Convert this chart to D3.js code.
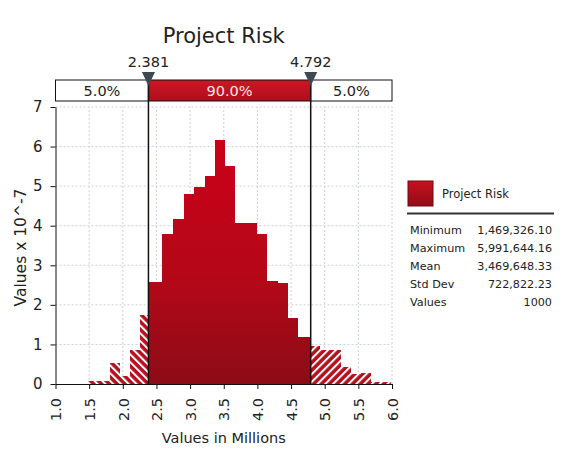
<!DOCTYPE html>
<html><head><meta charset="utf-8">
<script src="https://cdn.jsdelivr.net/npm/d3@7"></script>
<style>
body{margin:0;background:#fff}
svg{display:block}
text{font-family:"DejaVu Sans",sans-serif;fill:#222}
</style>
</head><body>
<svg id="c" width="566" height="465"></svg>
<script>
// ---- data ----
const binEdges = [1.49,1.647,1.805,1.956,2.112,2.252,2.381,2.577,2.741,2.906,3.06,3.219,3.367,3.524,3.672,3.84,3.99,4.138,4.30,4.452,4.61,4.792,4.928,5.083,5.24,5.387,5.535,5.69,5.846,5.99];
const densities = [0.07,0.07,0.54,0.2,0.86,1.75,2.57,3.8,4.18,4.81,4.98,5.25,6.16,5.5,4.06,4.06,3.78,2.6,2.56,1.67,1.19,0.97,0.85,0.85,0.44,0.25,0.28,0.06,0.06];
const delimiters = [2.381, 4.792];
const delimiterLabels = ["2.381", "4.792"];
const bandLabels = ["5.0%", "90.0%", "5.0%"];
const xTicks = [1.0,1.5,2.0,2.5,3.0,3.5,4.0,4.5,5.0,5.5,6.0];
const yTicks = [0,1,2,3,4,5,6,7];
const statNames = ["Minimum","Maximum","Mean","Std Dev","Values"];
const statValues = ["1,469,326.10","5,991,644.16","3,469,648.33","722,822.23","1000"];
const title = "Project Risk";
const seriesName = "Project Risk";
const xTitle = "Values in Millions";
const yTitle = "Values x 10^-7";

// ---- layout ----
const svg = d3.select("#c");
const x = d3.scaleLinear().domain([1, 6]).range([55.5, 392]);
const y = d3.scaleLinear().domain([0, 7]).range([384, 107]);

const defs = svg.append("defs");
const grad = defs.append("linearGradient").attr("id","grad")
  .attr("gradientUnits","userSpaceOnUse").attr("x1",0).attr("x2",0).attr("y1",y(6.2)).attr("y2",y(0));
grad.append("stop").attr("offset","0").attr("stop-color","#cc0018");
grad.append("stop").attr("offset","0.6").attr("stop-color","#b20818");
grad.append("stop").attr("offset","1").attr("stop-color","#8c0c16");
const sw = defs.append("linearGradient").attr("id","swg").attr("x1",0).attr("x2",0).attr("y1",0).attr("y2",1);
sw.append("stop").attr("offset","0").attr("stop-color","#c8101e");
sw.append("stop").attr("offset","1").attr("stop-color","#900c18");
const band = defs.append("linearGradient").attr("id","bandg").attr("x1",0).attr("x2",0).attr("y1",0).attr("y2",1);
band.append("stop").attr("offset","0").attr("stop-color","#cc1626");
band.append("stop").attr("offset","1").attr("stop-color","#b00e1c");

function hatch(id, angle){
  const p = defs.append("pattern").attr("id",id).attr("patternUnits","userSpaceOnUse")
    .attr("width",5.5).attr("height",10).attr("patternTransform",`rotate(${angle})`);
  p.append("rect").attr("width",5.5).attr("height",10).attr("fill","#b80e1c");
  p.append("rect").attr("width",2).attr("height",10).attr("fill","#ffffff");
}
hatch("hatchL", -45);
hatch("hatchR", 45);

// grid
const grid = svg.append("g").attr("stroke","#ccd0d8").attr("stroke-width",1).attr("stroke-dasharray","2,2");
grid.selectAll("line.v").data(xTicks.slice(1)).join("line")
  .attr("x1",d=>x(d)).attr("x2",d=>x(d)).attr("y1",y(0)).attr("y2",y(7));
grid.selectAll("line.h").data(yTicks.slice(1)).join("line")
  .attr("x1",x(1)).attr("x2",x(6)).attr("y1",d=>y(d)).attr("y2",d=>y(d));

// bars
const bins = densities.map((h,i)=>({x0:binEdges[i], x1:binEdges[i+1], h}));
svg.append("g").attr("shape-rendering","crispEdges").selectAll("rect").data(bins).join("rect")
  .attr("x",d=>x(d.x0)).attr("width",d=>x(d.x1)-x(d.x0))
  .attr("y",d=>y(d.h)).attr("height",d=>y(0)-y(d.h))
  .attr("fill",d=>{const m=(d.x0+d.x1)/2; return m<delimiters[0]?"url(#hatchL)":m>delimiters[1]?"url(#hatchR)":"url(#grad)";});

// axes
const ya = svg.append("g").attr("transform",`translate(${x(1)},0)`)
  .call(d3.axisLeft(y).tickValues(yTicks).tickSize(5).tickSizeOuter(0).tickPadding(8).tickFormat(d3.format("d")));
ya.selectAll("text").attr("font-size",15).attr("font-family","DejaVu Sans").attr("fill","#222");
ya.selectAll("line,path").attr("stroke","#111");

const xa = svg.append("g").attr("transform",`translate(0,${y(0)})`)
  .call(d3.axisBottom(x).tickValues(xTicks).tickSize(5).tickSizeOuter(0).tickFormat(d3.format(".1f")));
xa.selectAll("line,path").attr("stroke","#111");
xa.selectAll("text").attr("font-size",14.5).attr("font-family","DejaVu Sans").attr("fill","#222")
  .attr("transform","rotate(-90)").attr("text-anchor","end").attr("x",-14).attr("y",0).attr("dy","0.36em");

// delimiter band
const bx = [x(1), x(delimiters[0]), x(delimiters[1]), x(6)];
const bandG = svg.append("g");
[0,1,2].forEach(i=>{
  bandG.append("rect").attr("x",bx[i]).attr("y",80).attr("width",bx[i+1]-bx[i]).attr("height",21)
    .attr("fill", i===1?"url(#bandg)":"#fff").attr("stroke","#111").attr("stroke-width",1);
  bandG.append("text").attr("x",(bx[i]+bx[i+1])/2).attr("y",96).attr("text-anchor","middle")
    .attr("font-size",14.5).style("fill", i===1?"#fbe6e6":"#222").text(bandLabels[i]);
});

// delimiter lines, markers and values
delimiters.forEach((d,i)=>{
  const px = x(d);
  svg.append("line").attr("x1",px).attr("x2",px).attr("y1",80).attr("y2",y(0))
    .attr("stroke","#111").attr("stroke-width",1.5);
  svg.append("path").attr("d",`M${px-6.5},72 L${px+6.5},72 L${px},86 Z`).attr("fill","#3e4852");
  svg.append("text").attr("x",px).attr("y",67).attr("text-anchor","middle").attr("font-size",14.5).text(delimiterLabels[i]);
});

// titles
svg.append("text").attr("x",(x(1)+x(6))/2).attr("y",43).attr("text-anchor","middle").attr("font-size",21).text(title);
svg.append("text").attr("x",(x(1)+x(6))/2).attr("y",443).attr("text-anchor","middle").attr("font-size",14.5).text(xTitle);
svg.append("text").attr("transform",`translate(26,${(y(0)+y(7))/2 + 2}) rotate(-90)`).attr("text-anchor","middle").attr("font-size",15.5).text(yTitle);

// legend
svg.append("rect").attr("x",408).attr("y",181).attr("width",25).attr("height",25).attr("fill","url(#swg)").attr("stroke","#6a0a10").attr("stroke-width",1);
svg.append("text").attr("x",442).attr("y",198).attr("font-size",11.5).text(seriesName);
svg.append("line").attr("x1",407).attr("x2",554).attr("y1",213.5).attr("y2",213.5).attr("stroke","#333").attr("stroke-width",2);
const ls = svg.append("g").attr("font-size",11.2);
statNames.forEach((n,i)=>{
  ls.append("text").attr("x",410).attr("y",234+i*18).text(n);
  ls.append("text").attr("x",552).attr("y",234+i*18).attr("text-anchor","end").text(statValues[i]);
});
</script>
</body></html>
